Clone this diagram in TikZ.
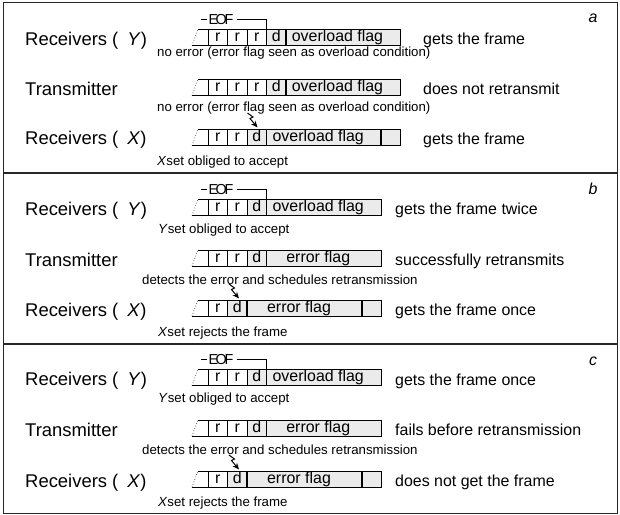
\documentclass[tikz,border=0pt]{standalone}
\usepackage{fontspec}
\setmainfont{Liberation Sans}
\usetikzlibrary{arrows.meta}
\tikzset{
  cellbox/.style={draw=black, line width=0.7bp, minimum height=16bp, inner sep=0pt, outer sep=0pt,
    anchor=north west, text height=11.5bp, text depth=3bp, font=\fontsize{16}{16}\selectfont},
  gcell/.style={cellbox, fill=black!8},
  thickline/.style={line width=1.8bp},
  thinline/.style={line width=0.7bp},
  slantline/.style={line width=0.6bp, dotted},
  lbl/.style={anchor=base west, inner sep=0pt, font=\fontsize{18.5}{18.5}\selectfont},
  res/.style={anchor=base west, inner sep=0pt, font=\fontsize{16}{16}\selectfont},
  note/.style={anchor=west, inner sep=0pt, font=\fontsize{13.3}{13.3}\selectfont},
  eof/.style={inner sep=0pt, font=\fontsize{14.5}{14.5}\selectfont},
  panellbl/.style={inner sep=0pt, font=\fontsize{16}{16}\selectfont\itshape},
  bolt/.style={line width=1bp, -{Stealth[length=6.5bp,width=5.5bp]}},
  border/.style={line width=1bp, draw=black!85},
  sep/.style={line width=1.6bp, draw=black!85},
}
\newcommand\flagtext[1]{#1\hspace*{11bp}}
% leading open slanted part of a frame row
\newcommand\frstart[1]{%
  \draw[slantline] (192,{#1+16}) -- (198,#1);
  \draw[thinline] (198,#1) -- (208,#1) (192,{#1+16}) -- (208,{#1+16});
}
% r r r d | overload flag
\newcommand\rowRRRD[2]{%
  \frstart{#2}
  \node[cellbox, minimum width=19.5bp] (#1c1) at (208,#2) {r};
  \node[cellbox, minimum width=19.5bp] (#1c2) at (227.5,#2) {r};
  \node[cellbox, minimum width=19.5bp] (#1c3) at (247,#2) {r};
  \node[gcell, minimum width=19.5bp] (#1d) at (266.5,#2) {d};
  \node[gcell, minimum width=114bp] (#1f) at (286,#2) {\flagtext{overload flag}};
  \draw[thickline] (#1f.north west) -- (#1f.south west);
}
% r r d | overload flag | blank
\newcommand\rowRRDb[2]{%
  \frstart{#2}
  \node[cellbox, minimum width=19.5bp] (#1c1) at (208,#2) {r};
  \node[cellbox, minimum width=19.5bp] (#1c2) at (227.5,#2) {r};
  \node[gcell, minimum width=19.5bp] (#1d) at (247,#2) {d};
  \node[gcell, minimum width=114.5bp] (#1f) at (266.5,#2) {\flagtext{overload flag}};
  \node[gcell, minimum width=19bp] (#1e) at (381,#2) {};
  \draw[thickline] (#1f.north west) -- (#1f.south west);
  \draw[thickline] (#1e.north west) -- (#1e.south west);
}
% r r d | flag
\newcommand\rowRRD[3]{%
  \frstart{#2}
  \node[cellbox, minimum width=19.5bp] (#1c1) at (208,#2) {r};
  \node[cellbox, minimum width=19.5bp] (#1c2) at (227.5,#2) {r};
  \node[gcell, minimum width=19.5bp] (#1d) at (247,#2) {d};
  \node[gcell, minimum width=114.5bp] (#1f) at (266.5,#2) {\flagtext{#3}};
  \draw[thickline] (#1f.north west) -- (#1f.south west);
}
% r d | error flag | blank
\newcommand\rowRD[2]{%
  \frstart{#2}
  \node[cellbox, minimum width=19.5bp] (#1c1) at (208,#2) {r};
  \node[gcell, minimum width=19.5bp] (#1d) at (227.5,#2) {d};
  \node[gcell, minimum width=115bp] (#1f) at (247,#2) {\flagtext{error flag}};
  \node[gcell, minimum width=19bp] (#1e) at (362,#2) {};
  \draw[thickline] (#1f.north west) -- (#1f.south west);
  \draw[thickline] (#1e.north west) -- (#1e.south west);
}
% EOF bracket
\newcommand\eofmark[2]{%
  \node[eof] (#1) at (221,#2) {E\kern-2.6bp O\kern-2.4bp F};
  \draw[thinline] (201,#2) -- ([xshift=-1bp]#1.west);
  \draw[thinline] ([xshift=3bp]#1.east) -- (266,#2) -- (266,{#2+9.5});
}
% lightning arrow
\newcommand\boltto[3]{%
  \coordinate (#1) at (#2,#3);
  \draw[bolt] (#1) -- ++(5.5,4) -- ++(-3,1.5) -- ++(7.5,9);
}
\begin{document}
\begin{tikzpicture}[x=1bp,y=-1bp]
\useasboundingbox (0,0) rectangle (620,515);
% borders
\draw[border] (3,3) rectangle (617,513);
\draw[sep] (3,173) -- (617,173);
\draw[sep] (3,344) -- (617,344);

% ---------- panel a ----------
\node[panellbl] (pa) at (593,18) {a};
\eofmark{eofa}{19.5}
\node[lbl] (aY) at (25,45.5) {Receivers (\hspace{9bp}\textit{Y})};
\rowRRRD{ar1}{29.5}
\node[res] (aYr) at (423,45) {gets the frame};
\node[note] (aYn) at (157,53) {no error (error flag seen as overload condition)};

\node[lbl] (aT) at (25,95.5) {Transmitter};
\rowRRRD{ar2}{79.5}
\node[res] (aTr) at (423,95) {does not retransmit};
\node[note] (aTn) at (157,108) {no error (error flag seen as overload condition)};

\boltto{abolt}{247.5}{113}
\node[lbl] (aX) at (25,145) {Receivers (\hspace{9bp}\textit{X})};
\rowRRDb{ar3}{129.5}
\node[res] (aXr) at (423,144.5) {gets the frame};
\node[note] (aXn) at (157,162) {\textit{X}set obliged to accept};

% ---------- panel b ----------
\node[panellbl] (pb) at (593,189) {b};
\eofmark{eofb}{189.5}
\node[lbl] (bY) at (25,215.5) {Receivers (\hspace{9bp}\textit{Y})};
\rowRRD{br1}{199.5}{overload flag}
\node[res] (bYr) at (395,215) {gets the frame twice};
\node[note] (bYn) at (158,230) {\textit{Y}set obliged to accept};

\node[lbl] (bT) at (25,266) {Transmitter};
\rowRRD{br2}{250}{error flag}
\node[res] (bTr) at (395,265.5) {successfully retransmits};
\node[note] (bTn) at (142,280) {detects the error and schedules retransmission};

\boltto{bbolt}{229}{284}
\node[lbl] (bX) at (25,316) {Receivers (\hspace{9bp}\textit{X})};
\rowRD{br3}{300}
\node[res] (bXr) at (395,315.5) {gets the frame once};
\node[note] (bXn) at (158,333) {\textit{X}set rejects the frame};

% ---------- panel c ----------
\node[panellbl] (pc) at (593,361) {c};
\eofmark{eofc}{359.5}
\node[lbl] (cY) at (25,385.5) {Receivers (\hspace{9bp}\textit{Y})};
\rowRRD{cr1}{369.5}{overload flag}
\node[res] (cYr) at (395,385) {gets the frame once};
\node[note] (cYn) at (158,399.5) {\textit{Y}set obliged to accept};

\node[lbl] (cT) at (25,436) {Transmitter};
\rowRRD{cr2}{420}{error flag}
\node[res] (cTr) at (395,435.5) {fails before retransmission};
\node[note] (cTn) at (142,450) {detects the error and schedules retransmission};

\boltto{cbolt}{229}{455}
\node[lbl] (cX) at (25,487) {Receivers (\hspace{9bp}\textit{X})};
\rowRD{cr3}{471}
\node[res] (cXr) at (395,486.5) {does not get the frame};
\node[note] (cXn) at (158,503) {\textit{X}set rejects the frame};
\end{tikzpicture}
\end{document}
